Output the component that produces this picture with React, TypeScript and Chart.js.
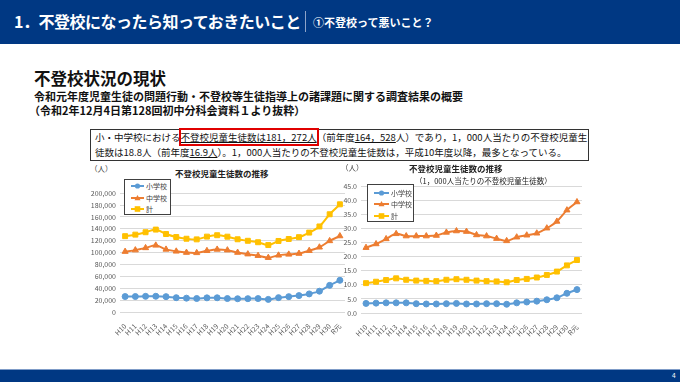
import React, { useEffect, useRef } from "react";
import { Chart, registerables } from "chart.js";
Chart.register(...registerables);

const labels = ["H10","H11","H12","H13","H14","H15","H16","H17","H18","H19","H20","H21","H22","H23","H24","H25","H26","H27","H28","H29","H30","R元"];
const elemCount = [26017,26047,26373,26511,25869,24077,23318,22709,23825,23927,22652,22327,22463,22622,21243,24175,25864,27583,30448,35032,44841,53350];
const juniorCount = [101675,104180,107913,112211,105383,102149,100040,99578,103069,105328,104153,100105,97428,94836,91446,95442,97033,98408,103235,108999,119687,127922];
const totalCount = [127692,130227,134286,138722,131252,126226,123358,122287,126894,129255,126805,122432,119891,117458,112689,119617,122897,125991,133683,144031,164528,181272];
const elemRate = [3.4,3.5,3.6,3.6,3.6,3.3,3.2,3.2,3.3,3.4,3.2,3.2,3.3,3.3,3.1,3.6,3.9,4.2,4.7,5.4,7.0,8.3];
const juniorRate = [23.2,24.5,26.3,28.1,27.3,27.3,27.3,27.5,28.6,29.1,28.9,27.7,27.3,26.4,25.6,26.9,27.6,28.3,30.1,32.5,36.5,39.4];
const totalRate = [10.6,11.1,11.7,12.3,11.8,11.5,11.4,11.3,11.8,12.0,11.8,11.5,11.3,11.2,10.9,11.7,12.1,12.6,13.5,14.7,16.9,18.8];
const seriesNames = ["小学校", "中学校", "計"];

const BLUE = "#5B9BD5";
const ORANGE = "#ED7D31";
const YELLOW = "#FFC000";
const NAVY = "#003883";
const JP = '"Noto Sans CJK JP", sans-serif';

function makeDatasets(a: number[], b: number[], c: number[]) {
  const base = { borderWidth: 2, tension: 0.3, pointBorderWidth: 1 };
  return [
    { ...base, label: seriesNames[0], data: a, borderColor: BLUE, backgroundColor: BLUE, pointStyle: "circle", pointRadius: 3 },
    { ...base, label: seriesNames[1], data: b, borderColor: ORANGE, backgroundColor: ORANGE, pointStyle: "triangle", pointRadius: 3.5 },
    { ...base, label: seriesNames[2], data: c, borderColor: YELLOW, backgroundColor: YELLOW, pointStyle: "rect", pointRadius: 3.5 },
  ];
}

function LineChart(props: any) {
  const ref = useRef<HTMLCanvasElement>(null);
  const { left, top, width, height, datasets, max, step, fmt, yWidth, xHeight, padRight, padTop } = props;
  useEffect(() => {
    const chart = new Chart(ref.current as HTMLCanvasElement, {
      type: "line",
      data: { labels, datasets },
      options: {
        responsive: false,
        animation: false,
        devicePixelRatio: 1,
        layout: { padding: { top: padTop, right: padRight, left: 0, bottom: 0 } },
        plugins: { legend: { display: false }, tooltip: { enabled: false } },
        scales: {
          x: {
            offset: true,
            grid: { display: false },
            border: { display: false },
            ticks: { autoSkip: false, maxRotation: 45, minRotation: 45, color: "#595959", font: { family: JP, size: 7 }, padding: 2 },
            afterFit: (s: any) => { s.height = xHeight; },
          },
          y: {
            min: 0,
            max,
            grid: { color: "#d9d9d9", drawTicks: false, lineWidth: 1 },
            border: { display: false },
            ticks: { stepSize: step, color: "#595959", font: { family: JP, size: 7 }, padding: 4, callback: (v: any) => fmt(v) },
            afterFit: (s: any) => { s.width = yWidth; },
          },
        },
      },
    } as any);
    return () => chart.destroy();
  }, []);
  return <canvas ref={ref} width={width} height={height} style={{ position: "absolute", left, top, width, height }} />;
}

function LegendBox(props: any) {
  const { left, top, width, height, rowYs, lineX0, lineX1, textX } = props;
  const colors = [BLUE, ORANGE, YELLOW];
  return (
    <div style={{ position: "absolute", left, top, width, height, border: "1px solid #404040", background: "#fff", boxSizing: "border-box" }}>
      {seriesNames.map((n, i) => {
        const cy = rowYs[i] - top;
        const mx = (lineX0 + lineX1) / 2 - left;
        return (
          <React.Fragment key={n}>
            <svg style={{ position: "absolute", left: 0, top: 0 }} width={width} height={height}>
              <line x1={lineX0 - left} y1={cy} x2={lineX1 - left} y2={cy} stroke={colors[i]} strokeWidth={2} />
              {i === 0 && <circle cx={mx} cy={cy} r={2.6} fill={colors[i]} />}
              {i === 1 && <polygon points={`${mx},${cy - 3} ${mx - 3},${cy + 2.2} ${mx + 3},${cy + 2.2}`} fill={colors[i]} />}
              {i === 2 && <rect x={mx - 2.8} y={cy - 2.8} width={5.6} height={5.6} fill={colors[i]} />}
            </svg>
            <div style={{ position: "absolute", left: textX - left, top: cy - 5, fontSize: 7, lineHeight: "10px", color: "#404040", fontFamily: JP, whiteSpace: "nowrap" }}>{n}</div>
          </React.Fragment>
        );
      })}
    </div>
  );
}

const abs = (left: number, top: number, extra: any = {}) => ({ position: "absolute" as const, left, top, whiteSpace: "nowrap" as const, ...extra });

export default function App() {
  useEffect(() => {
    document.body.style.margin = "0";
  }, []);
  return (
    <div style={{ position: "absolute", left: 0, top: 0, width: 680, height: 382, background: "#fff", overflow: "hidden", fontFamily: JP }}>
      {/* header */}
      <div style={{ position: "absolute", left: 0, top: 0, width: 680, height: 44, background: NAVY }} />
      <div style={abs(14, 9, { color: "#fff", fontSize: 16, fontWeight: 700, lineHeight: "24px", letterSpacing: -0.5 })}>1．不登校になったら知っておきたいこと</div>
      <div style={{ position: "absolute", left: 305, top: 11, width: 1, height: 21, background: "#8ea4c9" }} />
      <div style={abs(313, 13, { color: "#fff", fontSize: 11, fontWeight: 700, lineHeight: "18px" })}>①不登校って悪いこと？</div>

      {/* section titles */}
      <div style={abs(34, 66, { color: "#111", fontSize: 16.5, fontWeight: 700, lineHeight: "24px" })}>不登校状況の現状</div>
      <div style={abs(34, 89, { color: "#111", fontSize: 11, fontWeight: 700, lineHeight: "15px" })}>令和元年度児童生徒の問題行動・不登校等生徒指導上の諸課題に関する調査結果の概要</div>
      <div style={abs(29, 103, { color: "#111", fontSize: 11, fontWeight: 700, lineHeight: "15px" })}>（令和2年12月4日第128回初中分科会資料１より抜粋）</div>

      {/* summary box */}
      <div style={{ position: "absolute", left: 90, top: 129, width: 499, height: 32, border: "1px solid #333", boxSizing: "border-box" }} />
      <div style={abs(95, 130, { color: "#111", fontSize: 9.5, lineHeight: "15px" })}>
        小・中学校における
        <span style={{ outline: "2px solid #e00000", outlineOffset: 0, textDecoration: "underline" }}>不登校児童生徒数は181，272人</span>
        （前年度<span style={{ textDecoration: "underline" }}>164，528</span>人）であり，1，000人当たりの不登校児童生
      </div>
      <div style={abs(95, 145, { color: "#111", fontSize: 9.5, lineHeight: "15px" })}>
        徒数は18.8人（前年度<span style={{ textDecoration: "underline" }}>16.9人</span>）。1，000人当たりの不登校児童生徒数は，平成10年度以降，最多となっている。
      </div>

      {/* left chart */}
      <LineChart left={80} top={185} width={270} height={155} datasets={makeDatasets(elemCount, juniorCount, totalCount)}
        max={200000} step={20000} fmt={(v: number) => v.toLocaleString("en-US")} yWidth={40} xHeight={28} padRight={5} padTop={8} />
      <div style={abs(90, 164, { color: "#404040", fontSize: 7.5, lineHeight: "10px" })}>（人）</div>
      <div style={abs(175, 167, { color: "#222", fontSize: 8.5, fontWeight: 700, lineHeight: "12px" })}>不登校児童生徒数の推移</div>
      <LegendBox left={124} top={179} width={47} height={36} rowYs={[185, 197, 208]} lineX0={130} lineX1={143} textX={145} />

      {/* right chart */}
      <LineChart left={335} top={178} width={255} height={162} datasets={makeDatasets(elemRate, juniorRate, totalRate)}
        max={45} step={5} fmt={(v: number) => Number(v).toFixed(1)} yWidth={26} xHeight={27} padRight={8} padTop={8} />
      <div style={abs(341, 163, { color: "#404040", fontSize: 7.5, lineHeight: "10px" })}>（人）</div>
      <div style={abs(409, 162, { color: "#222", fontSize: 8.5, fontWeight: 700, lineHeight: "12px" })}>不登校児童生徒数の推移</div>
      <div style={abs(415, 175, { color: "#222", fontSize: 7.5, lineHeight: "11px" })}>（1，000人当たりの不登校児童生徒数）</div>
      <LegendBox left={367} top={184} width={47} height={38} rowYs={[192, 203, 215]} lineX0={373} lineX1={388} textX={390} />

      {/* footer */}
      <div style={{ position: "absolute", left: 0, top: 369, width: 680, height: 13, background: NAVY, borderTop: "1px solid #7f9cc8", boxSizing: "border-box" }} />
      <div style={abs(672, 371, { color: "#fff", fontSize: 6.5, lineHeight: "9px" })}>4</div>
    </div>
  );
}
